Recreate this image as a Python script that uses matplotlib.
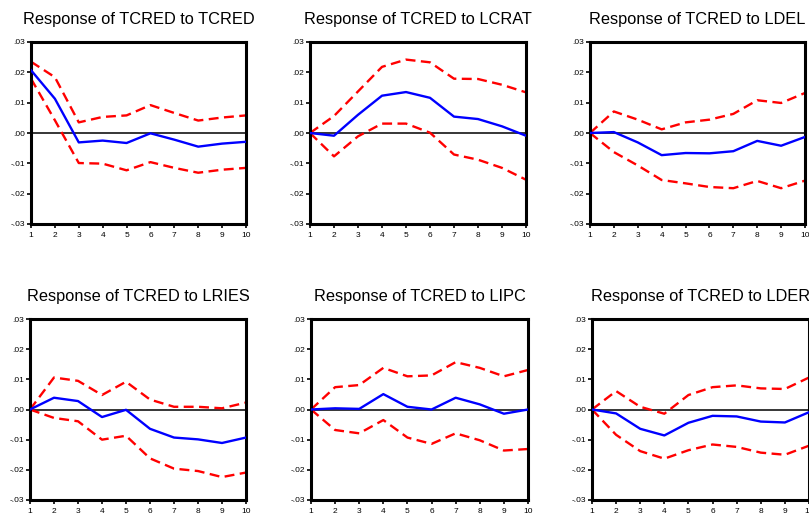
import matplotlib
matplotlib.use("Agg")
import matplotlib.pyplot as plt

plt.rcParams["font.family"] = ["Liberation Sans", "DejaVu Sans"]

# ---------------------------------------------------------------------
# horizons and data
periods = list(range(1, 11))
titles = [
    "Response of TCRED to TCRED",
    "Response of TCRED to LCRAT",
    "Response of TCRED to LDEL",
    "Response of TCRED to LRIES",
    "Response of TCRED to LIPC",
    "Response of TCRED to LDER",
]

resp_tcred = [0.0207, 0.0113, -0.0031, -0.0025, -0.0033, -0.0001, -0.0022, -0.0045, -0.0035, -0.0029]
upper_tcred = [0.0235, 0.0184, 0.0035, 0.0053, 0.0058, 0.0092, 0.0066, 0.0041, 0.0051, 0.0058]
lower_tcred = [0.0179, 0.0042, -0.0099, -0.0101, -0.0123, -0.0096, -0.0115, -0.0131, -0.0121, -0.0115]

resp_lcrat = [0.0, -0.0009, 0.0060, 0.0123, 0.0135, 0.0116, 0.0054, 0.0046, 0.0022, -0.0009]
upper_lcrat = [0.0, 0.0056, 0.0137, 0.0218, 0.0242, 0.0233, 0.0179, 0.0178, 0.0159, 0.0134]
lower_lcrat = [0.0, -0.0077, -0.0011, 0.0031, 0.0031, 0.0001, -0.0071, -0.0088, -0.0115, -0.0154]

resp_ldel = [0.0, 0.0003, -0.0031, -0.0073, -0.0066, -0.0067, -0.0060, -0.0026, -0.0042, -0.0013]
upper_ldel = [0.0, 0.0071, 0.0044, 0.0012, 0.0035, 0.0044, 0.0063, 0.0108, 0.0099, 0.0132]
lower_ldel = [0.0, -0.0063, -0.0107, -0.0155, -0.0166, -0.0178, -0.0182, -0.0158, -0.0182, -0.0157]

resp_lries = [0.0, 0.0039, 0.0028, -0.0025, -0.0001, -0.0064, -0.0093, -0.0099, -0.0111, -0.0093]
upper_lries = [0.0, 0.0106, 0.0095, 0.0048, 0.0092, 0.0033, 0.0009, 0.0009, 0.0004, 0.0023]
lower_lries = [0.0, -0.0028, -0.0039, -0.0100, -0.0087, -0.0162, -0.0196, -0.0204, -0.0224, -0.0209]

resp_lipc = [0.0, 0.0004, 0.0002, 0.0051, 0.0009, 0.0000, 0.0039, 0.0017, -0.0014, 0.0000]
upper_lipc = [0.0, 0.0074, 0.0081, 0.0138, 0.0110, 0.0113, 0.0157, 0.0138, 0.0110, 0.0131]
lower_lipc = [0.0, -0.0068, -0.0079, -0.0035, -0.0093, -0.0114, -0.0079, -0.0102, -0.0136, -0.0131]

resp_lder = [0.0, -0.0013, -0.0064, -0.0086, -0.0044, -0.0021, -0.0023, -0.0040, -0.0043, -0.0009]
upper_lder = [0.0, 0.0061, 0.0009, -0.0014, 0.0048, 0.0074, 0.0080, 0.0070, 0.0068, 0.0106]
lower_lder = [0.0, -0.0084, -0.0138, -0.0163, -0.0135, -0.0116, -0.0124, -0.0143, -0.0150, -0.0120]

y_ticks = [0.03, 0.02, 0.01, 0.0, -0.01, -0.02, -0.03]
y_labels = [".03", ".02", ".01", ".00", "-.01", "-.02", "-.03"]

series = [
    (resp_tcred, upper_tcred, lower_tcred),
    (resp_lcrat, upper_lcrat, lower_lcrat),
    (resp_ldel, upper_ldel, lower_ldel),
    (resp_lries, upper_lries, lower_lries),
    (resp_lipc, upper_lipc, lower_lipc),
    (resp_lder, upper_lder, lower_lder),
]

# panel frames in pixels: left, right, top, bottom
W, H = 809, 521
frames = [
    (31, 246, 42, 224),
    (310, 526, 42, 224),
    (590, 805, 42, 224),
    (30, 246, 319, 500),
    (311, 528, 319, 500),
    (592, 809, 319, 500),
]

fig = plt.figure(figsize=(W / 100, H / 100), dpi=100)

for (l, r, t, b), title, (resp, up, lo) in zip(frames, titles, series):
    ax = fig.add_axes([l / W, 1 - b / H, (r - l) / W, (b - t) / H])
    ax.axhline(0, color="black", lw=1.1, zorder=1)
    ax.plot(periods, up, color="#ff0000", lw=1.7, dashes=(4.2, 2.3), zorder=2)
    ax.plot(periods, lo, color="#ff0000", lw=1.7, dashes=(4.2, 2.3), zorder=2)
    ax.plot(periods, resp, color="#0000ff", lw=1.7, zorder=3)
    ax.set_xlim(1, 10)
    ax.set_ylim(-0.03, 0.03)
    ax.set_xticks(periods)
    ax.set_xticklabels([str(p) for p in periods])
    ax.set_yticks(y_ticks)
    ax.set_yticklabels(y_labels)
    ax.tick_params(axis="both", direction="out", length=3, width=1.2,
                   labelsize=6, colors="black")
    ax.tick_params(axis="y", pad=1)
    ax.tick_params(axis="x", pad=2.5)
    for sp in ax.spines.values():
        sp.set_linewidth(2.2)
    ax.set_title(title, fontsize=11.8, pad=13)

fig.savefig("out.png", dpi=100)
